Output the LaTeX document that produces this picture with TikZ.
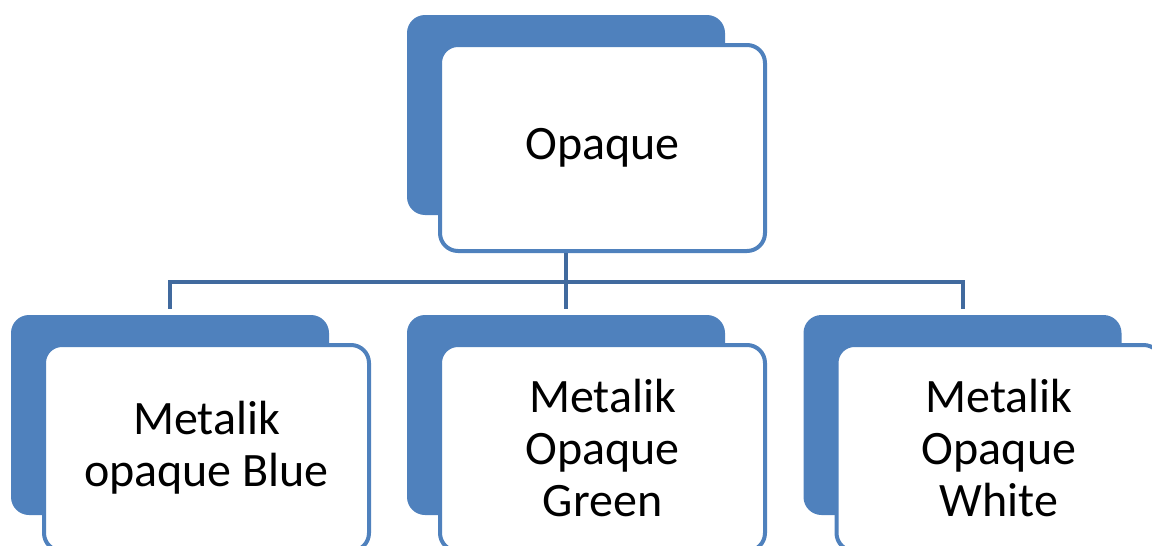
\documentclass[tikz,border=0pt]{standalone}
\usepackage{fontspec}
\setmainfont{Carlito}
\usetikzlibrary{positioning}
\definecolor{kortblaa}{RGB}{79,129,189}
\definecolor{linjeblaa}{RGB}{65,106,158}
\tikzset{
    %Define style for the card behind
    skygge/.style={
           rectangle,
           rounded corners=9pt,
           fill=kortblaa,
           minimum width=159pt,
           minimum height=100pt},
    %Define style for the front card
    kort/.style={
           rectangle,
           rounded corners=9pt,
           draw=kortblaa, line width=2pt,
           fill=white,
           minimum width=162.5pt,
           minimum height=103pt,
           align=center,
           font=\fontsize{24pt}{26pt}\selectfont},
    % Define connector style
    linje/.style={
           draw=linjeblaa,
           line width=2pt,
           shorten >=3pt}
}

\begin{document}
\begin{tikzpicture}[x=0.5pt, y=-0.5pt]
      \useasboundingbox (0,0) rectangle (1152,546);

      \node[skygge] (opaqueBg) at (566,115) {};
      \node[kort] (opaque) at ([shift={(36.5,33)}]opaqueBg) {Opaque};

      \node[skygge] (blueBg) at (170,415) {};
      \node[kort] (blue) at ([shift={(36.5,33)}]blueBg) {Metalik\\opaque Blue};

      \node[skygge] (greenBg) at (566,415) {};
      \node[kort] (green) at ([shift={(36.5,33)}]greenBg) {Metalik\\Opaque\\Green};

      \node[skygge] (whiteBg) at (962.5,415) {};
      \node[kort] (white) at ([shift={(36.5,33)}]whiteBg) {Metalik\\Opaque\\White};

      \coordinate (bus) at (566,282);
      \draw[linje, shorten >=0pt] (opaqueBg |- opaque.south) -- (bus);
      \draw[linje] (bus) -| (blueBg.north);
      \draw[linje] (bus) -- (greenBg.north);
      \draw[linje] (bus) -| (whiteBg.north);
  \end{tikzpicture}
\end{document}
